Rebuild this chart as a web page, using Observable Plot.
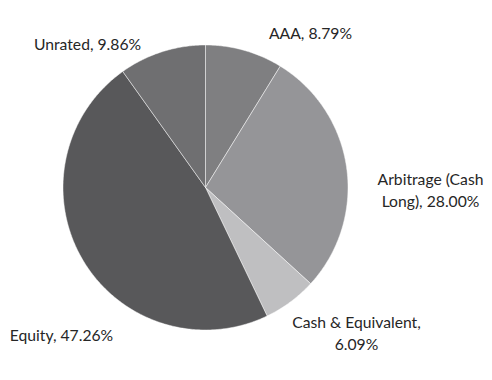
<!DOCTYPE html>
<html><head><meta charset="utf-8">
<script src="https://cdn.jsdelivr.net/npm/d3@7"></script>
<script src="https://cdn.jsdelivr.net/npm/@observablehq/plot@0.6"></script>
<style>body{margin:0;background:#fff}</style>
</head><body><div id="chart"></div>
<script>
// Data
const categories = ["AAA", "Arbitrage (Cash Long)", "Cash & Equivalent", "Equity", "Unrated"];
const shares = [8.79, 28.00, 6.09, 47.26, 9.86];
const labels = ["AAA, 8.79%", "Arbitrage (Cash\nLong), 28.00%", "Cash & Equivalent,\n6.09%", "Equity, 47.26%", "Unrated, 9.86%"];

// Style / layout
const fills = ["#7f7f81", "#959598", "#bfbfc1", "#58585a", "#6f6f71"];
const W = 492, H = 380, cx = 205, cy = 187, R = 142.5;
const labelPos = [[310, 31], [430, 188], [356, 331], [61, 333], [87, 42]];

const total = d3.sum(shares);
const pie = [];
let acc = 0;
categories.forEach((c, i) => {
  const a0 = acc / total * 2 * Math.PI;
  acc += shares[i];
  const a1 = acc / total * 2 * Math.PI;
  const n = Math.max(4, Math.ceil((a1 - a0) / 0.01));
  pie.push({cat: c, x: cx, y: cy});
  for (let k = 0; k <= n; k++) {
    const a = a0 + (a1 - a0) * k / n;
    pie.push({cat: c, x: cx + R * Math.sin(a), y: cy - R * Math.cos(a)});
  }
  pie.push({cat: c, x: cx, y: cy});
});

const labelData = labels.map((t, i) => ({t, x: labelPos[i][0], y: labelPos[i][1]}));

const chart = Plot.plot({
  width: W, height: H,
  margin: 0,
  x: {domain: [0, W], range: [0, W], axis: null},
  y: {domain: [0, H], range: [0, H], axis: null},
  color: {domain: categories, range: fills},
  style: {fontFamily: "Lato, sans-serif", background: "#fff"},
  marks: [
    Plot.line(pie, {x: "x", y: "y", z: "cat", fill: "cat", stroke: "#ffffff", strokeWidth: 0.8, strokeOpacity: 0.6, curve: "linear-closed"}),
    Plot.text(labelData, {x: "x", y: "y", text: "t", fontSize: 15.7, fill: "#262626", textAnchor: "middle", lineHeight: 1.41})
  ]
});
document.getElementById("chart").appendChild(chart);
</script>
</body></html>
